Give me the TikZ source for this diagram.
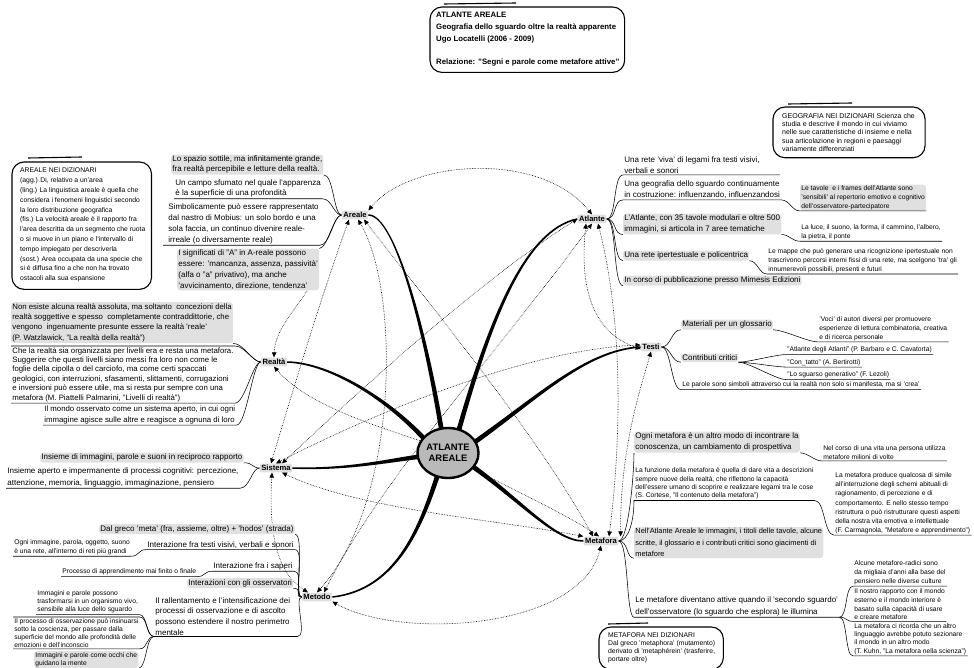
\documentclass[tikz,border=0pt]{standalone}
\usepackage{fontspec}
\setmainfont{Liberation Sans}
\usetikzlibrary{arrows.meta,shapes.geometric,calc}
\newcommand\spokeT[4]{%
 \fill ($(#1)!2.4pt!90:(#2)$) .. controls ($(#2)!1.8pt!-90:(#1)$) and ($(#3)!1.1pt!90:(#4)$) .. ($(#4)!0.75pt!-90:(#3)$)
   -- ($(#4)!0.75pt!90:(#3)$) .. controls ($(#3)!1.1pt!-90:(#4)$) and ($(#2)!1.8pt!90:(#1)$) .. ($(#1)!2.4pt!-90:(#2)$) -- cycle;}
\begin{document}
\begin{tikzpicture}[x=1pt,y=-1pt,
  hub/.style={font=\bfseries\fontsize{7.6}{9}\selectfont, fill=gray!24, rounded corners=2pt, inner sep=1.6pt},
  ta/.style={align=left, font=\fontsize{8}{10.8}\selectfont, inner sep=1.2pt, anchor=north west},
  tb/.style={align=left, font=\fontsize{7.8}{10.4}\selectfont, inner sep=1.2pt, anchor=north west},
  ts/.style={align=left, font=\fontsize{6.7}{8.7}\selectfont, inner sep=1.2pt, anchor=north west},
  dict/.style={align=left, font=\fontsize{7}{8.3}\selectfont, inner sep=0pt, anchor=north west},
  shaded/.style={fill=gray!24, rounded corners=3pt},
  br/.style={line width=0.55pt},
  link/.style={densely dotted, line width=0.6pt, {Triangle[length=5pt,width=4.5pt]}-{Triangle[length=5pt,width=4.5pt]}},
  linkend/.style={densely dotted, line width=0.6pt, -{Triangle[length=5pt,width=4.5pt]}},
  bubble/.style={line width=1.1pt, rounded corners=12pt}
]
\useasboundingbox (0,0) rectangle (974,668);

% ---------- title
\node[anchor=north west, align=left, font=\bfseries\fontsize{7.8}{12}\selectfont, inner sep=0pt] (title) at (436,12)
 {ATLANTE AREALE\\Geografia dello sguardo oltre la realtà apparente\\Ugo Locatelli (2006 - 2009)\\[11pt]Relazione: "Segni e parole come metafore attive"};
\draw[bubble] ([xshift=-6pt,yshift=5pt]title.north west) rectangle ([xshift=5pt,yshift=-6pt]title.south east);
\draw[line width=1.1pt] ([xshift=8pt,yshift=8pt]title.north west) -- ([xshift=80pt,yshift=9pt]title.north west);

% ---------- dictionary boxes
\node[dict, font=\fontsize{6.8}{9.8}\selectfont] (dA) at (20,168) {AREALE NEI DIZIONARI\\(agg.) Di, relativo a un'area\\(ling.) La linguistica areale è quella che\\considera i fenomeni linguistici secondo\\la loro distribuzione geografica\\(fis.) La velocità areale è il rapporto fra\\l'area descritta da un segmento che ruota\\o si muove in un piano e l'intervallo di\\tempo impiegato per descriverla\\(sost.) Area occupata da una specie che\\si è diffusa fino a che non ha trovato\\ostacoli alla sua espansione};
\draw[bubble] ([xshift=-8pt,yshift=6pt]dA.north west) rectangle ([xshift=6pt,yshift=-7pt]dA.south east);
\draw[line width=1.1pt] ([xshift=8pt,yshift=10pt]dA.north west) -- ([xshift=62pt,yshift=11pt]dA.north west);

\node[dict] (dG) at (782,113) {GEOGRAFIA NEI DIZIONARI Scienza che\\studia e descrive il mondo in cui viviamo\\nelle sue caratteristiche di insieme e nella\\sua articolazione in regioni e paesaggi\\variamente differenziati};
\draw[bubble] ([xshift=-9pt,yshift=6pt]dG.north west) rectangle ([xshift=10pt,yshift=-6pt]dG.south east);
\draw[line width=1.1pt] ([xshift=6pt,yshift=9pt]dG.north west) -- ([xshift=70pt,yshift=10pt]dG.north west);

\node[dict, font=\fontsize{6.8}{8}\selectfont] (dM) at (608,633) {METAFORA NEI DIZIONARI\\Dal greco 'metaphora' (mutamento)\\derivato di 'metaphérein' (trasferire,\\portare oltre)};
\draw[bubble] ([xshift=-9pt,yshift=6pt]dM.north west) rectangle ([xshift=8pt,yshift=-6pt]dM.south east);
\draw[line width=1.1pt] ([xshift=0pt,yshift=9pt]dM.north west) -- ([xshift=40pt,yshift=10pt]dM.north west);

% ---------- hubs
\node[hub] (areale) at (355,215) {Areale};
\node[hub] (atlante) at (592,219) {Atlante};
\node[hub] (testi) at (651,347) {Testi};
\node[hub] (realta) at (274,362) {Realtà};
\node[hub] (sistema) at (276,468) {Sistema};
\node[hub] (metafora) at (601,541) {Metafora};
\node[hub] (metodo) at (317,597) {Metodo};

% ---------- dotted relations
\draw[link] (areale.north east) .. controls (410,160) and (540,150) .. (atlante.north);
\draw[link] ([xshift=-6pt]areale.south) .. controls (320,300) and (290,400) .. ([xshift=-5pt]sistema.north);
\draw[link] ([xshift=3pt]areale.south) .. controls (400,290) and (400,500) .. ([xshift=0pt]metodo.north);
\draw[link] ([xshift=9pt]areale.south) .. controls (450,330) and (540,440) .. ([xshift=-8pt]metafora.north);
\draw[linkend] (307,291) .. controls (295,310) and (275,330) .. (realta.north);
\draw[link] (atlante.west) .. controls (480,280) and (360,390) .. ([xshift=6pt]sistema.north);
\draw[link] ([xshift=6pt]atlante.south) .. controls (625,330) and (620,450) .. ([xshift=8pt]metafora.north);
\draw[link] ([xshift=-6pt]atlante.south) .. controls (578,300) and (600,335) .. ([yshift=-2pt]testi.west);
\draw[link] ([xshift=0pt]atlante.south) .. controls (500,350) and (380,480) .. ([xshift=7pt]metodo.north);
\draw[link] (realta.south) .. controls (320,420) and (440,440) .. (450,455) .. controls (490,480) and (560,510) .. ([xshift=-2pt]metafora.north);
\draw[link] ([xshift=6pt]sistema.south) .. controls (360,510) and (500,520) .. (metafora.north west);
\draw[link] ([xshift=-4pt]sistema.south) .. controls (268,540) and (280,575) .. ([xshift=-9pt]metodo.north);
\draw[link] ([yshift=2pt]testi.west) .. controls (520,350) and (360,420) .. (sistema.north);
\draw[link] ([xshift=2pt]metafora.north east) .. controls (620,450) and (640,390) .. (testi.south);
\draw[link] (metafora.south) .. controls (580,630) and (400,640) .. (metodo.south east);

% ---------- spokes and centre
\spokeT{442,433}{425,330}{395,215}{areale.east}
\spokeT{458,433}{490,320}{525,230}{atlante.west}
\spokeT{428,443}{390,400}{330,363}{realta.east}
\spokeT{425,456}{390,460}{350,470}{sistema.east}
\spokeT{472,444}{535,400}{585,350}{testi.west}
\spokeT{472,466}{520,500}{555,541}{metafora.west}
\spokeT{438,474}{420,530}{395,590}{metodo.east}
\node[ellipse, draw, line width=2.4pt, fill=gray!55, minimum width=56pt, minimum height=50pt, inner sep=0pt,
      align=center, font=\bfseries\fontsize{9.4}{11}\selectfont] (center) at (448,453) {ATLANTE\\AREALE};

% ---------- Areale branches
\node[ta, shaded, font=\fontsize{8}{10}\selectfont] (a1) at (171,154.5) {Lo spazio sottile, ma infinitamente grande,\\fra realtà percepibile e letture della realtà.};
\node[ta, font=\fontsize{8}{10}\selectfont] (a2) at (174,178.5) {Un campo sfumato nel quale l'apparenza\\è la superficie di una profondità};
\node[ta] (a3) at (167,202.5) {Simbolicamente può essere rappresentato\\dal nastro di Mobius: un solo bordo e una\\sola faccia, un continuo divenire reale-\\irreale (o diversamente reale)};
\node[ta, shaded] (a4) at (177,248.5) {I significati di "A" in A-reale possono\\essere: 'mancanza, assenza, passività'\\(alfa o "a" privativo), ma anche\\'avvicinamento, direzione, tendenza'};
\draw[br] (a1.south east) .. controls +(10,0) and +(-8,0) .. (areale.west);
\draw[br] (a2.south west) -- (a2.south east) .. controls +(10,0) and +(-8,0) .. (areale.west);
\draw[br] ([xshift=-4pt]a3.south west) -- (a3.south east) .. controls +(10,0) and +(-8,0) .. (areale.west);
\draw[br] (a4.north east) .. controls +(8,0) and +(-8,0) .. (areale.west);

% ---------- Atlante branches
\node[ta] (b1) at (623,155.5) {Una rete 'viva' di legami fra testi visivi,\\verbali e sonori};
\node[ta] (b2) at (623,179.5) {Una geografia dello sguardo continuamente\\in costruzione: influenzando, influenzandosi};
\node[ts, shaded] (b2s) at (800,184.5) {Le tavole\ \ e i frames dell'Atlante sono\\'sensibili' al repertorio emotivo e cognitivo\\dell'osservatore-partecipatore};
\node[ta, shaded] (b3) at (623,213.5) {L'Atlante, con 35 tavole modulari e oltre 500\\immagini, si articola in 7 aree tematiche};
\node[ts] (b3s) at (800,223.5) {La luce, il suono, la forma, il cammino, l'albero,\\la pietra, il ponte};
\node[ta, shaded] (b4) at (623,250.5) {Una rete ipertestuale e policentrica};
\node[ts] (b4s) at (767,247.5) {Le mappe che può generare una ricognizione ipertestuale non\\trascrivono percorsi interni fissi di una rete, ma scelgono 'tra' gli\\innumerevoli possibili, presenti e futuri};
\node[ta, shaded] (b5) at (623,275.5) {In corso di pubblicazione presso Mimesis Edizioni};
\draw[br] (atlante.east) .. controls +(10,0) and +(-10,0) .. (b1.south west) -- ++(157,0);
\draw[br] (atlante.east) .. controls +(10,0) and +(-10,0) .. (b2.south west) -- (b2.south east) .. controls +(8,0) and +(-8,0) .. (b2s.south west) -- (b2s.south east);
\draw[br] (atlante.east) .. controls +(10,0) and +(-10,0) .. (b3.south west);
\draw[br] (b3.south east) .. controls +(8,0) and +(-8,0) .. (b3s.south west) -- ++(142,0);
\draw[br] (atlante.east) .. controls +(10,0) and +(-10,0) .. (b4.south west);
\draw[br] (b4.south east) .. controls +(8,0) and +(-8,0) .. (b4s.south west) -- (b4s.south east);
\draw[br] (atlante.east) .. controls +(10,0) and +(-10,0) .. (b5.south west);

% ---------- Testi branches
\node[ta, shaded] (c1) at (681,319.5) {Materiali per un glossario};
\node[ts] (c1s) at (818,315.5) {'Voci' di autori diversi per promuovere\\esperienze di lettura combinatoria, creativa\\e di ricerca personale};
\node[ta, shaded] (c2) at (681,353.5) {Contributi critici};
\node[ts] (c2a) at (786,345.5) {"Atlante degli Atlanti" (P. Barbaro e C. Cavatorta)};
\node[ts] (c2b) at (786,358) {"Con\_tatto" (A. Bertirotti)};
\node[ts] (c2c) at (786,370.5) {"Lo sguarso generativo" (F. Lezoli)};
\node[ts] (c3) at (681,380.5) {Le parole sono simboli attraverso cui la realtà non solo si manifesta, ma si 'crea'};
\draw[br] (testi.east) .. controls +(10,0) and +(-10,0) .. (c1.south west);
\draw[br] (c1.south east) .. controls +(10,0) and +(-10,0) .. (c1s.south west) -- (c1s.south east);
\draw[br] (testi.east) .. controls +(10,0) and +(-10,0) .. (c2.south west);
\draw[br] (c2.south east) .. controls +(10,0) and +(-10,0) .. (c2a.south west) -- (c2a.south east);
\draw[br] (c2.south east) .. controls +(10,0) and +(-10,0) .. (c2b.south west) -- (c2b.south east);
\draw[br] (c2.south east) .. controls +(10,0) and +(-10,0) .. (c2c.south west) -- (c2c.south east);
\draw[br] (testi.east) .. controls +(10,0) and +(-10,0) .. (c3.south west) -- (c3.south east);

% ---------- Realta branches
\node[tb, shaded] (d1) at (11,302) {Non esiste alcuna realtà assoluta, ma soltanto\ \ concezioni della\\realtà soggettive e spesso\ \ completamente contraddittorie, che\\vengono\ \ ingenuamente presunte essere la realtà 'reale'\\(P. Watzlawick, "La realtà della realtà")};
\node[tb, font=\fontsize{7.8}{9.4}\selectfont] (d2) at (11,346) {Che la realtà sia organizzata per livelli era e resta una metafora.\\Suggerire che questi livelli siano messi fra loro non come le\\foglie della cipolla o del carciofo, ma come certi spaccati\\geologici, con interruzioni, sfasamenti, slittamenti, corrugazioni\\e inversioni può essere utile, ma si resta pur sempre con una\\metafora (M. Piattelli Palmarini, "Livelli di realtà")};
\node[tb, font=\fontsize{7.8}{11}\selectfont] (d3) at (43,404) {Il mondo osservato come un sistema aperto, in cui ogni\\immagine agisce sulle altre e reagisce a ognuna di loro};
\draw[br] (d1.south east) .. controls +(10,0) and +(-8,0) .. (realta.west);
\draw[br] (d2.north west) -- (d2.north east) .. controls +(10,0) and +(-8,0) .. (realta.west);
\draw[br] (d2.south west) -- (d2.south east) .. controls +(10,0) and +(-8,0) .. (realta.west);
\draw[br] (d3.south west) -- (d3.south east) .. controls +(10,0) and +(-8,0) .. (realta.west);

% ---------- Sistema branches
\node[ta, shaded] (e1) at (40,452.5) {Insieme di immagini, parole e suoni in reciproco rapporto};
\node[ta, font=\fontsize{8}{11.5}\selectfont] (e2) at (6,466.5) {Insieme aperto e impermanente di processi cognitivi: percezione,\\attenzione, memoria, linguaggio, immaginazione, pensiero};
\draw[br] (e1.south east) .. controls +(10,0) and +(-8,0) .. (sistema.west);
\draw[br] (e2.south west) -- (e2.south east) .. controls +(10,0) and +(-8,0) .. (sistema.west);

% ---------- Metodo branches
\node[ta, shaded] (f1) at (99,524) {Dal greco 'meta' (fra, assieme, oltre) + 'hodos' (strada)};
\node[ta] (f2) at (146,540) {Interazione fra testi visivi, verbali e sonori};
\node[ts] (f2s) at (13,538.5) {Ogni immagine, parola, oggetto, suono\\è una rete, all'interno di reti più grandi};
\node[ta] (f3) at (212,561) {Interazione fra i saperi};
\node[ts] (f3s) at (61,567.5) {Processo di apprendimento mai finito o finale};
\node[ta, shaded] (f4) at (187,578) {Interazioni con gli osservatori};
\node[ta, font=\fontsize{8}{10.6}\selectfont] (f5) at (154,596) {Il rallentamento e l'intensificazione dei\\processi di osservazione e di ascolto\\possono estendere il nostro perimetro\\mentale};
\node[ts, font=\fontsize{6.7}{8}\selectfont] (f5a) at (36,589.5) {Immagini e parole possono\\trasformarsi in un organismo vivo,\\sensibile alla luce dello sguardo};
\node[ts, font=\fontsize{6.7}{8}\selectfont] (f5b) at (13,617) {Il processo di osservazione può insinuarsi\\sotto la coscienza, per passare dalla\\superficie del mondo alle profondità delle\\emozioni e dell'inconscio};
\node[ts, shaded, font=\fontsize{6.7}{8.3}\selectfont] (f5c) at (34,651) {Immagini e parole come occhi che\\guidano la mente};
\draw[br] (f1.south east) .. controls +(10,0) and +(-8,0) .. (metodo.west);
\draw[br] (f2s.south west) -- (f2s.south east) .. controls +(8,0) and +(-8,0) .. (f2.south west) -- (f2.south east) .. controls +(10,0) and +(-8,0) .. (metodo.west);
\draw[br] (f3s.south west) -- (f3s.south east) .. controls +(8,0) and +(-8,0) .. (f3.south west) -- (f3.south east) .. controls +(10,0) and +(-8,0) .. (metodo.west);
\draw[br] (f4.south east) .. controls +(10,0) and +(-8,0) .. (metodo.west);
\draw[br] (f5.south west) -- ([xshift=6pt]f5.south east) .. controls +(10,0) and +(-8,0) .. (metodo.west);
\draw[br] (f5a.south west) -- (f5a.south east) .. controls +(8,0) and +(-8,0) .. (f5.south west);
\draw[br] (f5b.north west) -- (f5b.north east) .. controls +(8,0) and +(-8,0) .. (f5.south west);
\draw[br] (f5b.south west) -- (f5b.south east) .. controls +(8,0) and +(-8,0) .. (f5.south west);
\draw[br] (f5c.south east) .. controls +(8,0) and +(-8,0) .. (f5.south west);

% ---------- Metafora branches
\node[ta, shaded, font=\fontsize{8}{11}\selectfont] (g1) at (634,431.5) {Ogni metafora è un altro modo di incontrare la\\conoscenza, un cambiamento di prospettiva};
\node[ts] (g1s) at (822,444.5) {Nel corso di una vita una persona utilizza\\metafore milioni di volte};
\node[ts, font=\fontsize{6.7}{8.3}\selectfont] (g2) at (634,466.5) {La funzione della metafora è quella di dare vita a descrizioni\\sempre nuove della realtà, che riflettono la capacità\\dell'essere umano di scoprire e realizzare legami tra le cose\\(S. Cortese, "Il contenuto della metafora")};
\node[ts, font=\fontsize{6.7}{9.1}\selectfont] (g2s) at (834,471.5) {La metafora produce qualcosa di simile\\all'interruzione degli schemi abituali di\\ragionamento, di percezione e di\\comportamento. E nello stesso tempo\\ristruttura o può ristrutturare questi aspetti\\della nostra vita emotiva e intellettuale\\(F. Carmagnola, "Metafore e apprendimento")};
\node[ta, shaded, font=\fontsize{7.4}{11.5}\selectfont] (g3) at (634,527) {Nell'Atlante Areale le immagini, i titoli delle tavole, alcune\\scritte, il glossario e i contributi critici sono giacimenti di\\metafore};
\node[ta, font=\fontsize{8}{11.5}\selectfont] (g4) at (634,595.5) {Le metafore diventano attive quando il 'secondo sguardo'\\dell'osservatore (lo sguardo che esplora) le illumina};
\node[ts, font=\fontsize{6.7}{9}\selectfont] (g4a) at (853,559) {Alcune metafore-radici sono\\da migliaia d'anni alla base del\\pensiero nelle diverse culture};
\node[ts] (g4b) at (853,587.5) {Il nostro rapporto con il mondo\\esterno e il mondo interiore è\\basato sulla capacità di usare\\e creare metafore};
\node[ts, font=\fontsize{6.7}{8.3}\selectfont] (g4c) at (853,622) {La metafora ci ricorda che un altro\\linguaggio avrebbe potuto sezionare\\il mondo in un altro modo\\(T. Kuhn, "La metafora nella scienza")};
\draw[br] (metafora.east) .. controls +(10,0) and +(0,20) .. (g1.south west);
\draw[br] (g1.south east) .. controls +(8,0) and +(-8,0) .. (g1s.south west) -- (g1s.south east);
\draw[br] (metafora.east) .. controls +(10,0) and +(0,20) .. (g2.south west) -- (g2.south east) .. controls +(10,0) and +(-10,0) .. (g2s.south west) -- (g2s.south east);
\draw[br] (metafora.east) .. controls +(10,0) and +(-8,0) .. (g3.south west);
\draw[br] (metafora.east) .. controls +(10,0) and +(-8,0) .. (g4.south west) -- (g4.south east);
\draw[br] (g4.south east) .. controls +(8,0) and +(-8,0) .. (g4a.south west) -- (g4a.south east);
\draw[br] (g4.south east) .. controls +(8,0) and +(-8,0) .. (g4b.south west) -- (g4b.south east);
\draw[br] (g4.south east) .. controls +(8,0) and +(-8,0) .. (g4c.south west) -- (g4c.south east);
\end{tikzpicture}
\end{document}
